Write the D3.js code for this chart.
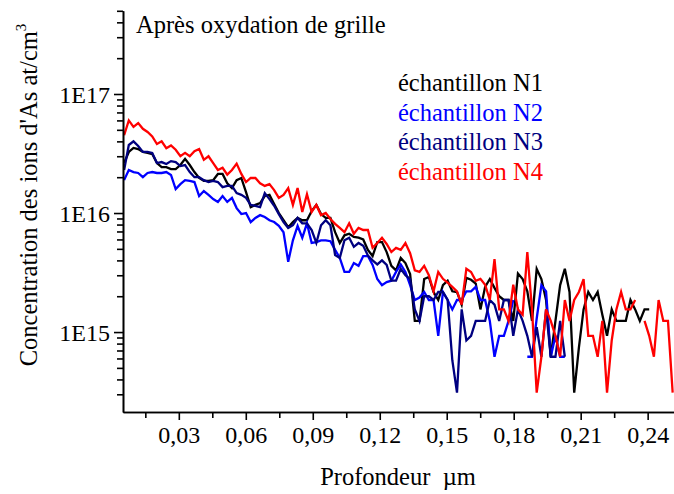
<!DOCTYPE html>
<html>
<head>
<meta charset="utf-8">
<script src="https://cdn.jsdelivr.net/npm/d3@7"></script>
<style>
  body { margin: 0; background: #fff; }
  text { font-family: "Liberation Serif", "Times New Roman", serif; fill: #000; }
</style>
</head>
<body>
<div id="chart"></div>
<script>
// depth (µm), one shared grid for all four profiles
const depth = [
  0.0055, 0.0076, 0.0097, 0.0118, 0.0139, 0.0160, 0.0181, 0.0202, 0.0223, 0.0244,
  0.0265, 0.0286, 0.0307, 0.0328, 0.0349, 0.0370, 0.0391, 0.0412, 0.0433, 0.0454,
  0.0475, 0.0496, 0.0517, 0.0538, 0.0559, 0.0580, 0.0601, 0.0622, 0.0643, 0.0664,
  0.0685, 0.0706, 0.0727, 0.0748, 0.0769, 0.0790, 0.0811, 0.0832, 0.0853, 0.0874,
  0.0895, 0.0916, 0.0937, 0.0958, 0.0979, 0.1000, 0.1021, 0.1042, 0.1063, 0.1084,
  0.1105, 0.1126, 0.1147, 0.1168, 0.1189, 0.1210, 0.1231, 0.1252, 0.1273, 0.1294,
  0.1315, 0.1336, 0.1357, 0.1378, 0.1399, 0.1420, 0.1441, 0.1462, 0.1483, 0.1504,
  0.1525, 0.1546, 0.1567, 0.1588, 0.1609, 0.1630, 0.1651, 0.1672, 0.1693, 0.1714,
  0.1735, 0.1756, 0.1777, 0.1798, 0.1819, 0.1840, 0.1861, 0.1882, 0.1903, 0.1924,
  0.1945, 0.1966, 0.1987, 0.2008, 0.2029, 0.2050, 0.2071, 0.2092, 0.2113, 0.2134,
  0.2155, 0.2176, 0.2197, 0.2218, 0.2239, 0.2260, 0.2281, 0.2302, 0.2323, 0.2344,
  0.2365, 0.2386, 0.2407, 0.2428, 0.2449, 0.2470, 0.2491, 0.2512
];

// As concentration (at/cm3), null = no count
const n1 = [
  2.63e16, 3.26e16, 3.52e16, 3.45e16, 3.26e16, 3.2e16, 3.13e16, 2.63e16, 2.43e16, 2.43e16,
  2.34e16, 2.34e16, 2.53e16, 2.85e16, 2.53e16, 2.21e16, 1.97e16, 1.86e16, 1.86e16, 1.89e16,
  2.13e16, 2.13e16, 1.78e16, 1.62e16, 1.89e16, 1.97e16, 1.5e16, 1.12e16, 1.17e16, 1.21e16,
  1.39e16, 1.42e16, 1.19e16, 1.0e16, 8.7e15, 7.6e15, 8.4e15, 9.1e15, 8.7e15, 8.7e15,
  1.04e16, 1.17e16, 9.8e15, 9.1e15, 9.1e15, 6.9e15, 5.6e15, 6.5e15, 6.7e15, 6.3e15,
  6.2e15, 6.0e15, 4.9e15, 4.35e15, 5.7e15, 5.7e15, 4.7e15, 3.6e15, 3.3e15, 4.2e15,
  3.8e15, 3.07e15, 1.24e15, 1.24e15, 2.79e15, 2.9e15, 2.17e15, 1.86e15, 2.48e15, 2.7e15,
  2.2e15, 2.17e15, 1.7e15, 2.85e15, 2.75e15, 2.55e15, 1.55e15, 2.4e15, 2.79e15, 2.35e15,
  2.0e15, 1.86e15, 1.86e15, 1.24e15, 3.1e15, 2.79e15, 2.2e15, 1.24e15, 3.4e15, 2.79e15,
  1.86e15, 6.2e14, 1.24e15, 2.48e15, 3.4e15, 2.17e15, 3.1e14, 7.4e14, 1.55e15, 2.17e15,
  1.86e15, 2.17e15, 1.4e15, 9.3e14, 1.55e15, 1.24e15, 1.24e15, 1.24e15, 1.86e15, 1.55e15,
  1.24e15, 1.55e15, 1.55e15
];
const n2 = [
  1.89e16, 2.3e16, 2.21e16, 2.17e16, 2.0e16, 2.17e16, 2.21e16, 2.17e16, 2.17e16, 2.21e16,
  2.09e16, 1.59e16, 1.75e16, 1.89e16, 1.86e16, 1.82e16, 1.39e16, 1.53e16, 1.42e16, 1.31e16,
  1.24e16, 1.39e16, 1.24e16, 1.34e16, 1.1e16, 9.8e15, 1.0e16, 8.4e15, 9.1e15, 9.6e15,
  9.25e15, 8.7e15, 8.4e15, 7.8e15, 6.9e15, 3.9e15, 5.9e15, 7.8e15, 6.2e15, 8.2e15,
  5.6e15, 5.7e15, 5.9e15, 5.9e15, 5.8e15, 4.9e15, 4.2e15, 3.2e15, 3.2e15, 3.8e15,
  3.6e15, 4.35e15, 4.35e15, 3.66e15, 2.79e15, 2.48e15, 2.63e15, 2.7e15, 3.2e15, 3.7e15,
  3.2e15, 2.48e15, 1.86e15, 1.95e15, 2.17e15, 1.86e15, 1.86e15, 9.3e14, 2.17e15, 1.86e15,
  1.55e15, 1.86e15, 1.86e15, 2.2e15, 2.2e15, 2.4e15, 1.86e15, 1.86e15, 1.24e15, 6.2e14,
  9.3e14, 9.3e14, 1.24e15, 1.86e15, null, null, 6.2e14, 6.2e14, 1.3e15, 2.48e15,
  2.2e15, 6.2e14, 9.3e14, 6.2e14, 6.2e14
];
const n3 = [
  2.3e16, 3.73e16, 4.0e16, 3.66e16, 3.26e16, 3.26e16, 3.2e16, 2.63e16, 2.68e16, 2.58e16,
  2.73e16, 2.68e16, 2.48e16, 2.53e16, 2.21e16, 2.0e16, 2.0e16, 1.89e16, 1.82e16, 1.86e16,
  1.82e16, 1.65e16, 1.69e16, 1.69e16, 1.47e16, 1.42e16, 1.34e16, 1.17e16, 1.15e16, 1.12e16,
  1.47e16, 1.31e16, 1.15e16, 9.8e15, 8.4e15, 7.5e15, 7.9e15, 9.1e15, 8.2e15, 8.2e15,
  7.2e15, 5.6e15, 7.9e15, 8.7e15, 7.9e15, 4.44e15, 4.2e15, 5.9e15, 6.2e15, 5.2e15,
  5.6e15, 5.3e15, 4.4e15, 4.0e15, 3.7e15, 4.0e15, 3.66e15, 2.7e15, 2.7e15, 3.4e15,
  3.0e15, 2.79e15, 1.55e15, 1.24e15, 2.0e15, 2.0e15, 1.86e15, 2.17e15, 2.17e15, 1.86e15,
  5.8e14, 3.1e14, 1.55e15, 8.5e14, 9.3e14, 1.24e15, 1.24e15, 1.24e15, 1.86e15, 1.7e15,
  1.24e15, 1.86e15, 1.86e15, 9.3e14, 1.55e15, 1.24e15, 9.3e14, 6.2e14, 1.1e15, 6.2e14,
  1.55e15, 6.2e14, 6.2e14, 1.24e15, 6.2e14
];
const n4 = [
  4.5e16, 6.0e16, 5.3e16, 5.7e16, 5.1e16, 4.8e16, 4.4e16, 3.8e16, 4.0e16, 3.5e16,
  3.7e16, 3.4e16, 3.0e16, 3.2e16, 3.0e16, 3.3e16, 3.45e16, 2.8e16, 3.0e16, 2.63e16,
  2.3e16, 2.4e16, 2.1e16, 2.3e16, 2.6e16, 2.13e16, 1.82e16, 1.97e16, 1.97e16, 1.78e16,
  1.69e16, 1.75e16, 1.56e16, 1.34e16, 1.42e16, 1.62e16, 1.17e16, 1.62e16, 1.02e16, 1.44e16,
  1.02e16, 1.17e16, 9.6e15, 1.0e16, 8.9e15, 8.1e15, 7.5e15, 6.9e15, 8.2e15, 6.7e15,
  7.5e15, 7.2e15, 7.2e15, 5.1e15, 5.6e15, 6.2e15, 5.5e15, 4.7e15, 5.1e15, 4.9e15,
  5.6e15, 4.6e15, 3.3e15, 3.2e15, 3.6e15, 3.0e15, 2.2e15, 3.2e15, 2.8e15, 2.6e15,
  2.4e15, 2.2e15, 1.7e15, 3.4e15, 3.2e15, 2.7e15, 2.8e15, 2.5e15, 1.86e15, 4.1e15,
  1.55e15, 1.55e15, 1.24e15, 2.5e15, 1.55e15, 1.4e15, 4.7e15, 1.55e15, 3.1e14, 6.2e14,
  1.55e15, 1.24e15, 9.3e14, 6.2e14, 1.86e15, 1.24e15, 1.86e15, 2.17e15, 2.79e15, 9.3e14,
  9.3e14, 6.2e14, 1.24e15, 3.1e14, 8.5e14, 1.55e15, 2.17e15, 1.55e15, 1.55e15, 1.86e15,
  null, 1.24e15, 9.3e14, 6.2e14, 1.86e15, 1.24e15, 1.24e15, 3.1e14
];

const seriesNames = ['échantillon N1', 'échantillon N2', 'échantillon N3', 'échantillon N4'];
const xTicks = [0.03, 0.06, 0.09, 0.12, 0.15, 0.18, 0.21, 0.24];
const xMinorTicks = [0.015, 0.045, 0.075, 0.105, 0.135, 0.165, 0.195, 0.225];
const yTicks = [1e15, 1e16, 1e17];
const yTickLabels = ['1E15', '1E16', '1E17'];

const colors = ['#000000', '#0000ff', '#000080', '#ff0000'];

const width = 674;
const height = 494;
const fontFamily = '"Liberation Serif", "Times New Roman", serif';

const svg = d3.select('#chart')
  .append('svg')
    .attr('width', width)
    .attr('height', height)
    .style('background', '#fff');

const x = d3.scaleLinear()
  .domain([0.005, 0.2518])
  .range([123, 674]);

const y = d3.scaleLog()
  .domain([2.13e14, 5e17])
  .range([412, 10.8]);

// minor log ticks 2..9 x 10^n
const yMinorTicks = [];
[14, 15, 16, 17].forEach(e => {
  d3.range(2, 10).forEach(k => {
    const v = k * Math.pow(10, e);
    if (v >= y.domain()[0] && v <= y.domain()[1]) yMinorTicks.push(v);
  });
});

const series = [n1, n2, n3, n4].map((vals, i) => ({
  name: seriesNames[i],
  color: colors[i],
  points: vals.map((v, j) => ({ d: depth[j], c: v }))
}));

svg.append('defs')
  .append('clipPath')
    .attr('id', 'plot-clip')
  .append('rect')
    .attr('x', 123)
    .attr('y', 0)
    .attr('width', width - 123)
    .attr('height', 412);

const line = d3.line()
  .defined(p => p.c != null)
  .x(p => x(p.d))
  .y(p => y(p.c));

svg.append('g')
    .attr('clip-path', 'url(#plot-clip)')
  .selectAll('path')
  .data(series)
  .join('path')
    .attr('d', s => line(s.points))
    .attr('fill', 'none')
    .attr('stroke', s => s.color)
    .attr('stroke-width', 2.3)
    .attr('stroke-linejoin', 'miter');

// axes
const yAxis = svg.append('g')
  .attr('transform', 'translate(123,0)')
  .call(d3.axisLeft(y)
    .tickValues(yTicks)
    .tickFormat((d, i) => yTickLabels[i])
    .tickSize(9)
    .tickSizeOuter(0)
    .tickPadding(4));

svg.append('g')
  .attr('transform', 'translate(123,0)')
  .call(d3.axisLeft(y)
    .tickValues(yMinorTicks)
    .tickFormat('')
    .tickSize(6)
    .tickSizeOuter(0));

const xAxis = svg.append('g')
  .attr('transform', 'translate(0,412)')
  .call(d3.axisBottom(x)
    .tickValues(xTicks)
    .tickFormat(d => d.toFixed(2).replace('.', ','))
    .tickSize(8)
    .tickSizeOuter(0)
    .tickPadding(6));

svg.append('g')
  .attr('transform', 'translate(0,412)')
  .call(d3.axisBottom(x)
    .tickValues(xMinorTicks)
    .tickFormat('')
    .tickSize(6)
    .tickSizeOuter(0));

svg.selectAll('.domain, .tick line')
  .attr('stroke', '#000')
  .attr('stroke-width', 1.6);

yAxis.selectAll('.tick text')
  .attr('font-family', fontFamily)
  .attr('font-size', 24)
  .attr('dy', '0.35em');

xAxis.selectAll('.tick text')
  .attr('font-family', fontFamily)
  .attr('font-size', 24);

// titles
svg.append('text')
  .attr('x', 136)
  .attr('y', 33)
  .attr('font-size', 24.5)
  .text('Après oxydation de grille');

svg.append('text')
  .attr('x', 398)
  .attr('y', 485)
  .attr('text-anchor', 'middle')
  .attr('font-size', 24.5)
  .style('white-space', 'pre')
  .text('Profondeur  µm');

const yTitle = svg.append('text')
  .attr('transform', 'translate(37,195) rotate(-90)')
  .attr('text-anchor', 'middle')
  .attr('font-size', 24.5);
yTitle.append('tspan').text("Concentration des ions d'As at/cm");
yTitle.append('tspan')
  .attr('font-size', 15)
  .attr('dy', -11)
  .text('3');

// legend
svg.append('g')
  .selectAll('text')
  .data(series)
  .join('text')
    .attr('x', 398)
    .attr('y', (d, i) => 91 + i * 29.7)
    .attr('font-size', 24.5)
    .style('fill', d => d.color)
    .text(d => d.name);
</script>
</body>
</html>
